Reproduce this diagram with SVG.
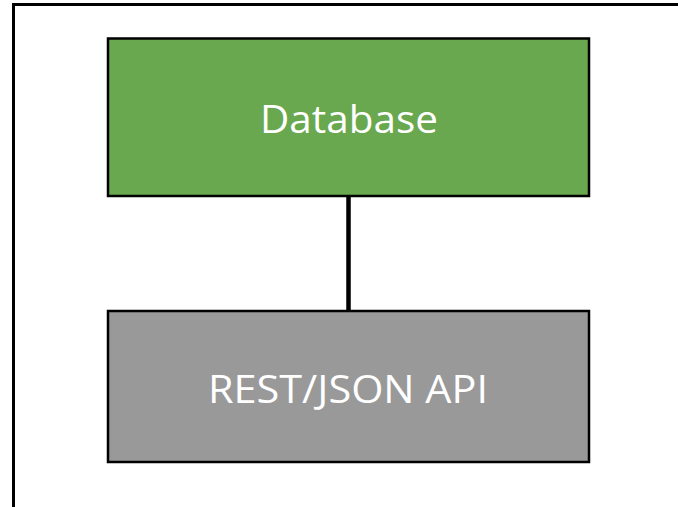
<svg xmlns="http://www.w3.org/2000/svg" width="678" height="507" viewBox="0 0 678 507">
<style>
.node{stroke:#000;stroke-width:2.5}
.lbl{font-family:"Open Sans","Noto Sans",sans-serif;font-size:39px;fill:#fff;text-anchor:middle}
</style>
<rect width="678" height="507" fill="#fff"/>
<path d="M13.5 520 V4.5 H690" fill="none" stroke="#000" stroke-width="3"/>
<g id="connectors">
<line x1="348.5" y1="196" x2="348.5" y2="311" stroke="#000" stroke-width="4.5"/>
</g>
<g id="database">
<rect class="node" x="108" y="38.5" width="481" height="157.5" fill="#6aa84f"/>
<text class="lbl" x="349" y="133" textLength="178" lengthAdjust="spacingAndGlyphs">Database</text>
</g>
<g id="api">
<rect class="node" x="108" y="311" width="481" height="151" fill="#999999"/>
<text class="lbl" x="348" y="403" textLength="280" lengthAdjust="spacingAndGlyphs">REST/JSON API</text>
</g>
</svg>
